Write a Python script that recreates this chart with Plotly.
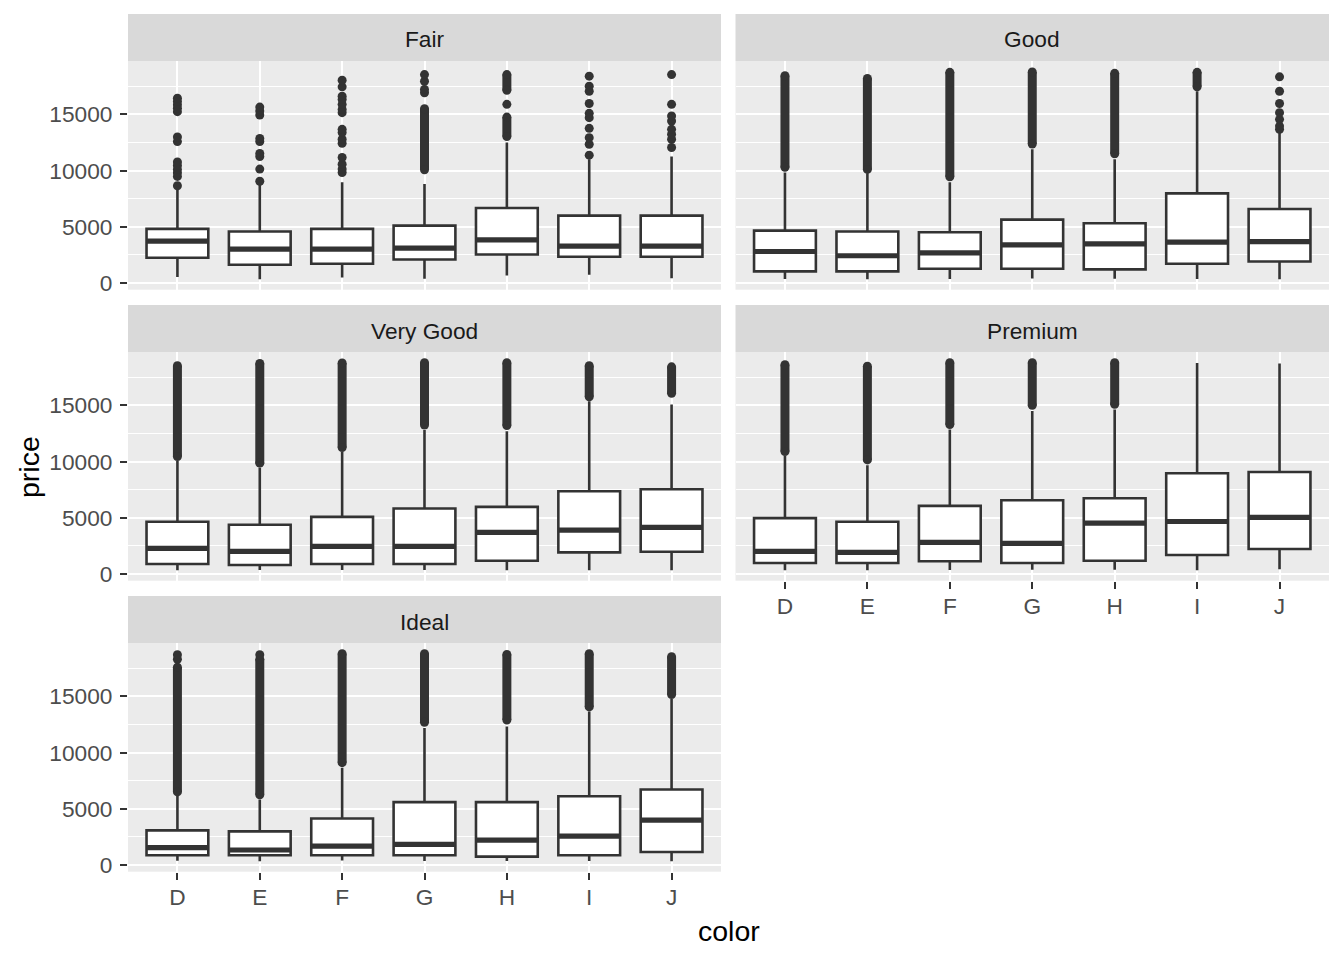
import plotly.graph_objects as go

W, H = 1344, 960

# ---------------- data ----------------
colors = ["D", "E", "F", "G", "H", "I", "J"]
cuts = ["Fair", "Good", "Very Good", "Premium", "Ideal"]
y_ticks = [0, 5000, 10000, 15000]
y_tick_labels = ["0", "5000", "10000", "15000"]
y_minor_ticks = [2500, 7500, 12500, 17500]

# Fair
fair_lo = [536, 337, 496, 369, 659, 735, 416]
fair_q1 = [2242, 1621, 1710, 2093, 2536, 2330, 2330]
fair_med = [3721, 3012, 3012, 3100, 3836, 3278, 3278]
fair_q3 = [4811, 4573, 4811, 5105, 6672, 5990, 5990]
fair_hi = [8400, 8800, 8950, 8800, 12490, 11010, 11250]
fair_points = [
    [8650, 9480, 9800, 10100, 10450, 10770, 12580, 12990, 15240, 15550, 15850, 16150, 16440],
    [9050, 10130, 11250, 11520, 12580, 12850, 14940, 15300, 15650],
    [9830, 10130, 10570, 11160, 12430, 12790, 13380, 13670, 15150, 15440, 15890, 16330, 16620, 17450, 18040],
    [16920, 17220, 17950, 18540],
    [15890],
    [11370, 12340, 12930, 13760, 14710, 15090, 15970, 17060, 17510, 18400],
    [12050, 12790, 13230, 13670, 14410, 14850, 15890, 18540],
]
fair_runs = [[], [], [], [[10070, 15500]], [[13020, 14760], [17150, 18540]], [], []]

# Good
good_lo = [361, 327, 357, 394, 368, 351, 335]
good_q1 = [1028, 1028, 1267, 1267, 1205, 1710, 1914]
good_med = [2800, 2420, 2685, 3393, 3482, 3633, 3686]
good_q3 = [4660, 4573, 4518, 5636, 5316, 7974, 6583]
good_hi = [9830, 9770, 8950, 11900, 11010, 17060, 13380]
good_points = [[], [], [], [], [], [], [13670, 13960, 14560, 15150, 15970, 17060, 18340]]
good_runs = [[[10300, 18440]], [[10100, 18200]], [[9450, 18740]], [[12360, 18780]],
             [[11500, 18650]], [[17460, 18740]], []]

# Very Good
vgood_lo = [336, 352, 357, 354, 337, 336, 336]
vgood_q1 = [887, 798, 887, 887, 1180, 1925, 1980]
vgood_med = [2280, 2013, 2457, 2457, 3700, 3903, 4140]
vgood_q3 = [4640, 4373, 5083, 5830, 5970, 7362, 7540]
vgood_hi = [10050, 9460, 10850, 12800, 12700, 15370, 15080]
vgood_points = [[], [], [], [], [], [], []]
vgood_runs = [[[10450, 18520]], [[9860, 18730]], [[11250, 18780]], [[13250, 18790]],
              [[13200, 18790]], [[15770, 18520]], [[16070, 18430]]]

# Premium
prem_lo = [326, 326, 342, 382, 368, 334, 416]
prem_q1 = [976, 976, 1126, 976, 1180, 1685, 2218]
prem_med = [2013, 1925, 2810, 2723, 4524, 4670, 5030]
prem_q3 = [4967, 4640, 6060, 6564, 6741, 8960, 9075]
prem_hi = [10490, 9670, 12860, 14490, 14640, 18780, 18720]
prem_points = [[], [], [], [], [], [], []]
prem_runs = [[[10900, 18610]], [[10150, 18490]], [[13300, 18790]], [[15000, 18790]],
             [[15100, 18790]], [], []]

# Ideal
ideal_lo = [367, 326, 408, 361, 357, 348, 340]
ideal_q1 = [860, 860, 860, 860, 745, 860, 1153]
ideal_med = [1543, 1330, 1685, 1836, 2218, 2572, 3990]
ideal_q3 = [3078, 2990, 4140, 5590, 5590, 6120, 6715]
ideal_hi = [6270, 5830, 8640, 12190, 12330, 13660, 14760]
ideal_points = [[18300, 18700], [18700], [], [], [], [], []]
ideal_runs = [[[6500, 17600]], [[6250, 18300]], [[9100, 18790]], [[12700, 18790]],
              [[12900, 18730]], [[14060, 18790]], [[15160, 18530]]]

panel_data = [
    (fair_lo, fair_q1, fair_med, fair_q3, fair_hi, fair_points, fair_runs),
    (good_lo, good_q1, good_med, good_q3, good_hi, good_points, good_runs),
    (vgood_lo, vgood_q1, vgood_med, vgood_q3, vgood_hi, vgood_points, vgood_runs),
    (prem_lo, prem_q1, prem_med, prem_q3, prem_hi, prem_points, prem_runs),
    (ideal_lo, ideal_q1, ideal_med, ideal_q3, ideal_hi, ideal_points, ideal_runs),
]

# ---------------- layout geometry (pixels) ----------------
col_px = [(128, 721), (735.5, 1329)]
row_px = [(61, 289.7), (352, 580.7), (643, 871.7)]
strip_px = [(14, 61), (305, 352), (596, 643)]
panel_pos = [(0, 0), (1, 0), (0, 1), (1, 1), (0, 2)]   # (col, row) per cut
x_axis_shown = [False, False, False, True, True]
y_axis_shown = [True, False, True, False, True]

FONT = "Liberation Sans, Arial, sans-serif"
DARK = "#333333"
BOXW = 0.75
TXT = 22.7
TITLE = 28.5
xpos = list(range(1, len(colors) + 1))

fig = go.Figure()
layout = dict(
    width=W, height=H, margin=dict(l=0, r=0, t=0, b=0, pad=0, autoexpand=False),
    paper_bgcolor="white", plot_bgcolor="#EBEBEB",
    showlegend=False, font=dict(family=FONT), hovermode=False,
    shapes=[], annotations=[],
)

for k, cut in enumerate(cuts):
    lo, q1, med, q3, hi, pts, runs = panel_data[k]
    idx = "" if k == 0 else str(k + 1)
    xa, ya = "x" + idx, "y" + idx
    c, r = panel_pos[k]

    # outliers: dense runs
    rx, ry = [], []
    ex, ey = [], []
    for i, rl in enumerate(runs):
        for a, b in rl:
            rx += [xpos[i], xpos[i], None]
            ry += [a, b, None]
            ex += [xpos[i], xpos[i]]
            ey += [a, b]
    px_, py_ = [], []
    for i, pl in enumerate(pts):
        for v in pl:
            px_.append(xpos[i])
            py_.append(v)

    fig.add_trace(go.Box(
        x=xpos, q1=q1, median=med, q3=q3, lowerfence=lo, upperfence=hi,
        width=BOXW, fillcolor="white", line=dict(color=DARK, width=2.6),
        whiskerwidth=0, boxpoints=False, xaxis=xa, yaxis=ya, showlegend=False,
        hoverinfo="skip"))
    if rx:
        fig.add_trace(go.Scatter(x=rx, y=ry, mode="lines", line=dict(color=DARK, width=9),
                                 xaxis=xa, yaxis=ya, hoverinfo="skip"))
        fig.add_trace(go.Scatter(x=ex, y=ey, mode="markers", marker=dict(color=DARK, size=9),
                                 xaxis=xa, yaxis=ya, hoverinfo="skip"))
    if px_:
        fig.add_trace(go.Scatter(x=px_, y=py_, mode="markers", marker=dict(color=DARK, size=9),
                                 xaxis=xa, yaxis=ya, hoverinfo="skip"))
    # thick median lines
    mx, my = [], []
    for i, m in enumerate(med):
        mx += [xpos[i] - BOXW / 2, xpos[i] + BOXW / 2, None]
        my += [m, m, None]
    fig.add_trace(go.Scatter(x=mx, y=my, mode="lines", line=dict(color=DARK, width=5.2),
                             xaxis=xa, yaxis=ya, hoverinfo="skip"))

    x0, x1 = col_px[c]
    y0, y1 = row_px[r]
    xd = [x0 / W, x1 / W]
    yd = [1 - y1 / H, 1 - y0 / H]
    showx = x_axis_shown[k]
    showy = y_axis_shown[k]
    layout["xaxis" + idx] = dict(
        domain=xd, anchor=ya, range=[0.4, len(colors) + 0.6],
        tickmode="array", tickvals=xpos, ticktext=colors,
        showgrid=True, gridcolor="white", gridwidth=2.2, zeroline=False, showline=False,
        ticks="outside" if showx else "", ticklen=7, tickwidth=2.2, tickcolor=DARK,
        showticklabels=showx, tickfont=dict(size=TXT, color="#4D4D4D", family=FONT),
        ticklabelstandoff=-2,
        fixedrange=True, automargin=False,
    )
    layout["yaxis" + idx] = dict(
        domain=yd, anchor=xa, range=[-599, 19748],
        tickmode="array", tickvals=y_ticks, ticktext=y_tick_labels,
        showgrid=True, gridcolor="white", gridwidth=2.2, zeroline=False, showline=False,
        minor=dict(tickmode="array", tickvals=y_minor_ticks, showgrid=True,
                   gridcolor="white", gridwidth=1.1, ticks=""),
        ticks="outside" if showy else "", ticklen=7, tickwidth=2.2, tickcolor=DARK,
        showticklabels=showy, tickfont=dict(size=TXT, color="#4D4D4D", family=FONT),
        ticklabelstandoff=3,
        fixedrange=True, automargin=False,
    )
    # strip
    s0, s1 = strip_px[r]
    layout["shapes"].append(dict(type="rect", xref="paper", yref="paper",
                                 x0=xd[0], x1=xd[1], y0=1 - s1 / H, y1=1 - s0 / H,
                                 fillcolor="#D9D9D9", line=dict(width=0), layer="below"))
    layout["annotations"].append(dict(text=cut, xref="paper", yref="paper",
                                      x=(xd[0] + xd[1]) / 2, y=1 - ((s0 + s1) / 2 + 2) / H,
                                      showarrow=False, xanchor="center", yanchor="middle",
                                      font=dict(size=TXT, color="#1A1A1A", family=FONT)))

layout["annotations"].append(dict(text="price", xref="paper", yref="paper", x=29 / W,
                                  y=1 - 467 / H, textangle=-90, showarrow=False,
                                  xanchor="center", yanchor="middle",
                                  font=dict(size=TITLE, color="black", family=FONT)))
layout["annotations"].append(dict(text="color", xref="paper", yref="paper", x=728.5 / W,
                                  y=1 - 931 / H, showarrow=False,
                                  xanchor="center", yanchor="middle",
                                  font=dict(size=TITLE, color="black", family=FONT)))

fig.update_layout(**layout)
fig.write_html(
    "out.html",
    config={"displayModeBar": False},
    post_script=("document.documentElement.style.margin='0';"
                 "document.body.style.margin='0';document.body.style.padding='0';"
                 "document.documentElement.style.overflow='hidden';"
                 "document.body.style.overflow='hidden';"),
)
